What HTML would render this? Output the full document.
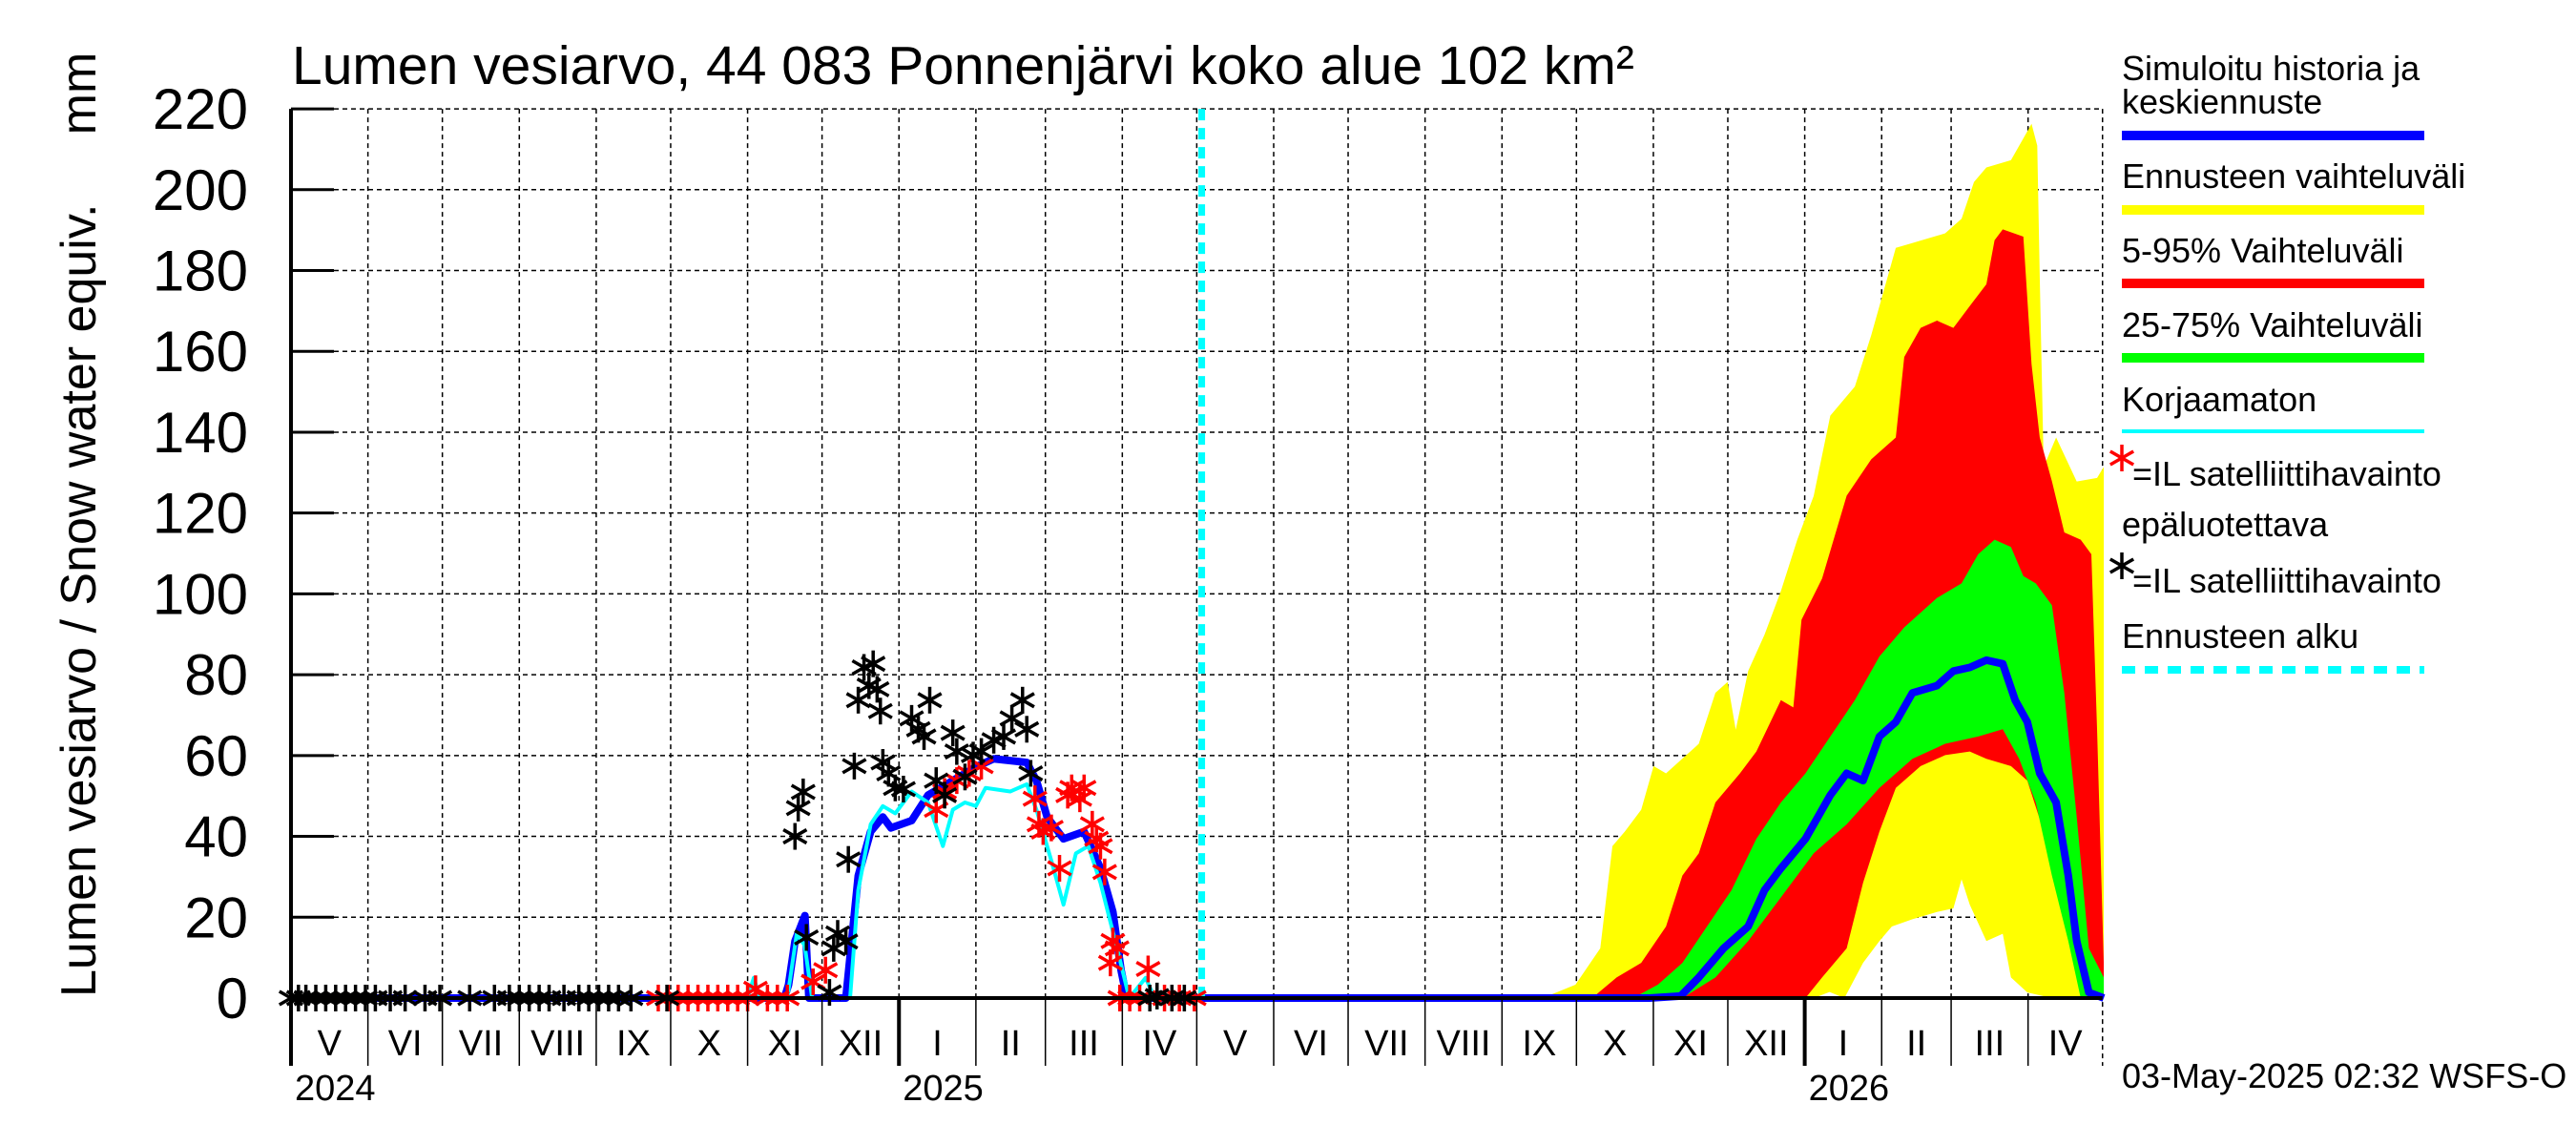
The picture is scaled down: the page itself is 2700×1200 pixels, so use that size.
<!DOCTYPE html>
<html><head><meta charset="utf-8"><style>
body{margin:0;background:#fff}
svg{display:block;font-family:"Liberation Sans",sans-serif}
</style></head><body>
<svg id="chart" width="2700" height="1200" viewBox="0 0 2700 1200" xmlns="http://www.w3.org/2000/svg">
<rect width="2700" height="1200" fill="#fff"/>
<text x="306" y="88" font-size="57">Lumen vesiarvo, 44 083 Ponnenjärvi koko alue 102 km²</text>
<text transform="translate(100,1045) rotate(-90)" font-size="52">Lumen vesiarvo / Snow water equiv.&#160;&#160;&#160;&#160;&#160;mm</text>
<g id="grid"></g><g id="bands"></g><g id="lines"></g><g id="stars"></g><g id="axes"></g>
<g id="legend" font-size="36">
<text x="2224" y="84">Simuloitu historia ja</text><text x="2224" y="119">keskiennuste</text>
<line x1="2224" x2="2541" y1="142" y2="142" stroke="#0000ff" stroke-width="10"/>
<text x="2224" y="197">Ennusteen vaihteluväli</text>
<line x1="2224" x2="2541" y1="220" y2="220" stroke="#ffff00" stroke-width="10"/>
<text x="2224" y="275">5-95% Vaihteluväli</text>
<line x1="2224" x2="2541" y1="297" y2="297" stroke="#ff0000" stroke-width="10"/>
<text x="2224" y="353">25-75% Vaihteluväli</text>
<line x1="2224" x2="2541" y1="375" y2="375" stroke="#00ff00" stroke-width="10"/>
<text x="2224" y="431">Korjaamaton</text>
<line x1="2224" x2="2541" y1="452" y2="452" stroke="#00ffff" stroke-width="4"/>
<text x="2235" y="509">=IL satelliittihavainto</text>
<text x="2224" y="562">epäluotettava</text>
<text x="2235" y="621">=IL satelliittihavainto</text>
<text x="2224" y="679">Ennusteen alku</text>
<line x1="2224" x2="2541" y1="702" y2="702" stroke="#00ffff" stroke-width="8" stroke-dasharray="14,10"/>
</g>
<text x="2224" y="1140" font-size="36">03-May-2025 02:32 WSFS-O</text>
</svg>
<script>
// data: day index from 2024-05-01, values in mm
const yTicks=[0,20,40,60,80,100,120,140,160,180,200,220];
const monthLabels=["V","VI","VII","VIII","IX","X","XI","XII","I","II","III","IV","V","VI","VII","VIII","IX","X","XI","XII","I","II","III","IV"];
const monthDays=[31,30,31,31,30,31,30,31,31,28,31,30,31,30,31,31,30,31,30,31,31,28,31,30];
const yearLabels=["2024","2025","2026"];
const forecastStartDay=367;
const yellowUpperDay=[504.4,517.6,527.6,532.5,537.5,544.1,549.1,554.1,567.3,574,578.9,582.2,587.2,593.8,600.4,607,613.6,620.3,630.2,636.8,646.7,656.7,666.6,673.2,678.2,683.2,693.1,698.1,701.4,703.7,704.7,706.3,711.3,719.6,727.8,730.5];
const yellowUpperVal=[0,3.3,12.3,37.6,41.2,46.6,57.4,55.6,62.9,75.5,78.2,66.4,80.9,89.9,100.7,113.4,124.2,144.1,151.3,164,185.6,187.4,189.2,192.8,201.9,205.5,207.3,212.7,216.3,210.9,178.4,131.4,138.7,127.8,128.7,131.4];
const yellowLowerDay=[504.4,613.6,620,626,633.5,640.1,645.1,653.4,663.3,669.9,673.2,676.5,683.2,689.8,693.1,699.7,709.6,730.5];
const yellowLowerVal=[0,0,1.5,0,8.7,14.1,17.7,19.5,21.3,22.2,29.4,23.1,14.1,15.9,5.1,1.4,0,0];
const redUpperDay=[524.3,534.2,544.1,554.1,560.7,567.3,574,583.9,590.5,600.4,605.4,608.7,617,626.9,636.8,646.7,650.1,656.7,663.3,669.9,676.5,683.2,686.5,689.8,698.1,701.4,704.7,709.6,714.6,721.2,725.5,727.8,730.5];
const redUpperVal=[0,5.1,8.7,17.7,30.3,35.8,48.4,55.6,61,73.7,71.9,93.6,103.8,124.3,133.3,138.7,158.6,165.8,167.6,165.8,171.2,176.6,187.5,190.2,188.4,156.8,138.7,127.9,115.2,113.4,109.8,66.5,8.7];
const redLowerDay=[524.3,610.3,617,626.9,633.5,640.1,646.7,656.7,666.6,676.5,683.2,693.1,699.7,706.3,712.9,719.6,724.5,730.5];
const redLowerVal=[0,0,5.1,12.3,28.5,41.2,52,57.4,60.1,61,59.2,57.4,53.8,41.2,24.9,8.7,0,0];
const greenUpperDay=[540.8,550.8,560.7,570.6,580.5,590.5,600.4,610.3,620.3,630.2,640.1,650.1,663.3,673.2,679.9,686.5,693.1,698.1,703.1,709.6,714.6,719.6,724.5,730.5];
const greenUpperVal=[0,3.3,8.7,17.7,26.7,39.4,48.4,55.6,64.7,73.7,84.5,91.7,99,102.6,109.8,113.4,111.6,104.4,102.6,97.2,75.5,44.8,12.3,5.1];
const greenLowerDay=[540.8,560.7,574,587.2,600.4,613.6,626.9,640.1,653.4,666.6,679.9,689.8,696.4,703.1,709.6,716.2,721.2,730.5];
const greenLowerVal=[0,0,5.1,14.1,24.9,35.8,43,52,59.2,62.9,64.7,66.5,59.2,48.4,30.3,14.1,0,0];
const medianDay=[367,547.4,560,567.3,577.3,587.2,593.8,600.4,610.3,620.3,626.9,633.5,640.1,646.7,653.4,663.3,669.9,676.5,683.2,689.8,694.8,699.7,704.7,711.3,716.2,719.6,724.5,730.5];
const medianVal=[0,0,0.5,5.1,12.3,17.7,26.7,32.1,39.4,50.2,55.6,53.8,64.7,68.3,75.5,77.3,80.9,81.8,83.6,82.7,73.7,68.3,55.6,48.4,30.3,14.1,1.4,0];
const histDay=[0,198.8,200.5,203.1,207.1,208.7,223.6,228.6,233.6,238.5,241.8,250.1,256.7,266.7,276.6,279.9,283.2,296.5,300.4,304.7,311.3,319.6,326.2,331.2,334.5,336.8,367];
const histVal=[0,0,3.3,14.1,20.4,0,0,30.3,41.2,44.8,42.1,43.9,50.2,53.8,57.4,58.3,59.2,58.3,53.8,44.8,39.4,41.2,32.1,21.3,6.9,0,0];
const rawDay=[0,183.9,186.5,189,200,203.8,207,210,225.3,228.6,233.6,238.5,243.5,250.1,256.7,262.7,266.7,271.6,276,279.9,289.8,296.5,300.4,306.4,311.3,316.3,321.3,326.2,332.9,337.8,344.4,348,367];
const rawVal=[0,0,5,0,0,15.9,13,0,0,26.7,43,47.5,45.7,51.1,48.4,37.6,46.6,48.4,47.5,52,51.1,52.9,46.6,34,23.1,35.8,37.6,28.5,12.3,0,5,0,0];
const blackStarDay=[0,3,6,10,14,18,22,26,30,34,40,46,54,60,72,82,88,92,96,100,104,110,116,120,124,128,132,137,151.5,203.1,204.4,206.4,207.7,217,218.7,220.3,223.6,224.6,227,228.6,230.9,232.9,234.6,236.2,237.5,238.5,240.8,243.5,246.8,250.1,252.8,255.1,257.4,260,263.4,266.7,268.3,271.6,274.9,278.2,283.2,287.2,290.5,294.8,296.5,298.1,346.1,349,355,360];
const blackStarVal=[0,0,0,0,0,0,0,0,0,0,0,0,0,0,0,0,0,0,0,0,0,0,0,0,0,0,0,0,0,40,47,51,15,1.4,12.3,16,14,34.3,57.4,73.7,81.8,77.3,82.7,76.4,71,58.3,55.6,52,51.7,69.2,66.5,64.7,73.7,53.8,50.2,65.6,61,54.7,60.1,61,63.8,64.7,69.2,73.7,66.5,55.6,0,0.5,0,0];
const redStarDay=[148,152,156,160,164,168,172,176,180,184,187.2,192,196,200,210.4,215.4,260,263.4,268.3,273.3,278.2,299.8,301.4,303.1,306.4,309.7,313,314.6,317.9,319.6,322.9,324.6,326.2,327.9,331.2,332.9,330.2,345.4,334,338,342,352,358,364];
const redStarVal=[0,0,0,0,0,0,0,0,0,0,2.3,0,0,0,4,6.9,46.6,51.1,53.8,55.6,57.4,49.3,43,41.2,42.1,32.1,50.2,52,49.3,52,43,39.4,37.6,31.2,14.1,12.3,8.7,7.2,0,0,0,0,0,0];

const X0=305,PXD=2.601,Y0=1046,PMM=4.236;
const xs=d=>X0+d*PXD, ys=v=>Y0-v*PMM;
const NS="http://www.w3.org/2000/svg";
function mk(tag,attrs,parent){const e=document.createElementNS(NS,tag);for(const k in attrs)e.setAttribute(k,attrs[k]);document.getElementById(parent).appendChild(e);return e;}
const XR=xs(730);
yTicks.forEach(t=>{if(t>0){const g=mk('line',{x1:X0,x2:XR,y1:ys(t),y2:ys(t),stroke:'#000','stroke-width':1.5,'stroke-dasharray':'5,4'},'grid');

}
const tk=mk('line',{x1:X0,x2:X0+45,y1:ys(t),y2:ys(t),stroke:'#000','stroke-width':3},'axes');


const lb=mk('text',{x:X0-45,y:ys(t)+21,'font-size':60,'text-anchor':'end'},'axes');lb.textContent=t;

});
let cum=0;
monthLabels.forEach((m,i)=>{const a=cum,b=cum+monthDays[i];
if(i>0){const g=mk('line',{x1:xs(a),x2:xs(a),y1:ys(220),y2:Y0,stroke:'#000','stroke-width':1.5,'stroke-dasharray':'5,4'},'grid');

}
const isJan=(m==="I");
const tk=mk('line',{x1:xs(a),x2:xs(a),y1:Y0,y2:1117,stroke:'#000','stroke-width':isJan?4:1.5},'axes');


const lb=mk('text',{x:(xs(a)+xs(b))/2,y:1106,'font-size':38,'text-anchor':'middle'},'axes');lb.textContent=m;


cum=b;});
const g2=mk('line',{x1:XR,x2:XR,y1:ys(220),y2:1117,stroke:'#000','stroke-width':1.5,'stroke-dasharray':'5,4'},'grid');


[0,245,610].forEach((d,i)=>{const t=mk('text',{x:xs(d)+4,y:1153,'font-size':38},'axes');t.textContent=yearLabels[i];

});
function band(ud,uv,ld,lv,color,name){let p=ud.map((d,i)=>xs(d)+','+ys(uv[i]));
for(let i=ld.length-1;i>=0;i--)p.push(xs(ld[i])+','+ys(lv[i]));
const e=mk('polygon',{points:p.join(' '),fill:color},'bands');

}
band(yellowUpperDay,yellowUpperVal,yellowLowerDay,yellowLowerVal,'#ffff00','forecast-range-band');
band(redUpperDay,redUpperVal,redLowerDay,redLowerVal,'#ff0000','band-5-95');
band(greenUpperDay,greenUpperVal,greenLowerDay,greenLowerVal,'#00ff00','band-25-75');
function line(ds,vs,color,w,name){const e=mk('polyline',{points:ds.map((d,i)=>xs(d)+','+ys(vs[i])).join(' '),fill:'none',stroke:color,'stroke-width':w,'stroke-linejoin':'round'},'lines');

}
line(histDay,histVal,'#0000ff',8,'simulated-history-line');
line(rawDay,rawVal,'#00ffff',4,'uncorrected-line');
line(medianDay,medianVal,'#0000ff',8,'median-forecast-line');
const fl=mk('line',{x1:xs(forecastStartDay),x2:xs(forecastStartDay),y1:ys(220),y2:Y0,stroke:'#00ffff','stroke-width':7,'stroke-dasharray':'12,8'},'lines');


const ya=mk('line',{x1:X0,x2:X0,y1:ys(220),y2:1117,stroke:'#000','stroke-width':4},'axes');


const xa=mk('line',{x1:X0,x2:XR,y1:Y0,y2:Y0,stroke:'#000','stroke-width':4},'axes');


function star(cx,cy,color,name,parent){const r=14;const g=document.createElementNS(NS,'g');


g.setAttribute('stroke',color);g.setAttribute('stroke-width','3.5');
[[0,-r,0,r],[-r*.87,-r*.5,r*.87,r*.5],[-r*.87,r*.5,r*.87,-r*.5]].forEach(s=>{const l=document.createElementNS(NS,'line');l.setAttribute('x1',cx+s[0]);l.setAttribute('y1',cy+s[1]);l.setAttribute('x2',cx+s[2]);l.setAttribute('y2',cy+s[3]);g.appendChild(l);});
document.getElementById(parent).appendChild(g);}
redStarDay.forEach((d,i)=>star(xs(d),ys(redStarVal[i]),'#ff0000','red-satellite-obs','stars'));
blackStarDay.forEach((d,i)=>star(xs(d),ys(blackStarVal[i]),'#000','black-satellite-obs','stars'));
star(2224,480,'#ff0000','legend-red-star','legend');
star(2224,593,'#000','legend-black-star','legend');
</script>
</body></html>
